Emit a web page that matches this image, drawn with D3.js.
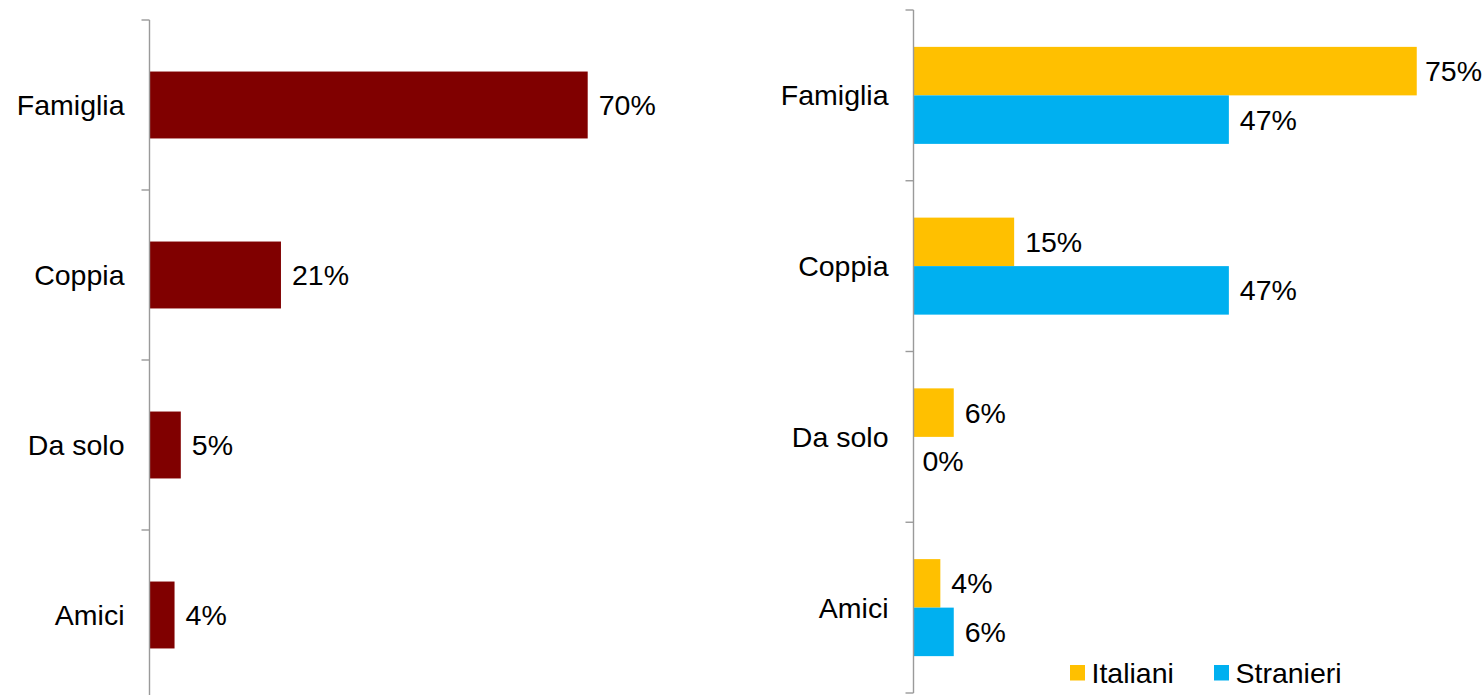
<!DOCTYPE html>
<html>
<head>
<meta charset="utf-8">
<script src="https://cdn.jsdelivr.net/npm/d3@7"></script>
<style>
  html, body { margin: 0; padding: 0; background: #fff; }
  svg { display: block; }
  text { font-family: "Liberation Sans", Arial, sans-serif; fill: #000; }
</style>
</head>
<body>
<svg id="chart" width="1483" height="695"></svg>
<script>
// Categories shared by both panels
const categories = ["Famiglia", "Coppia", "Da solo", "Amici"];

// Left panel: overall share
const totalValues = [0.70, 0.21, 0.05, 0.04];

// Right panel: split by origin
const seriesNames = ["Italiani", "Stranieri"];
const italianiValues = [0.75, 0.15, 0.06, 0.04];
const stranieriValues = [0.47, 0.47, 0.00, 0.06];

const seriesColors = ["#FFC000", "#00B0F0"];
const totalColor = "#800000";
const axisColor = "#9a9a9a";
const fontSize = 28.5;
const svgWidth = 1483;

const svg = d3.select("#chart");
const fmt = d3.format(".0%");

// Draws a vertical category axis with ticks at band boundaries and labels at band centres
function drawCategoryAxis(g, y, x0) {
  const [top, bottom] = y.range();
  g.append("line")
    .attr("x1", x0).attr("x2", x0)
    .attr("y1", top).attr("y2", bottom)
    .attr("stroke", axisColor).attr("stroke-width", 1.4);
  const bounds = categories.map(c => y(c)).concat([y(categories[categories.length - 1]) + y.step()]);
  g.selectAll(".tick").data(bounds).join("line")
    .attr("x1", x0 - 8).attr("x2", x0)
    .attr("y1", d => d).attr("y2", d => d)
    .attr("stroke", axisColor).attr("stroke-width", 1.4);
  g.selectAll(".cat").data(categories).join("text")
    .attr("x", x0 - 25)
    .attr("y", d => y(d) + y.bandwidth() / 2)
    .attr("dy", "0.35em")
    .attr("text-anchor", "end")
    .style("font-size", fontSize + "px")
    .text(d => d);
}

// Keeps value labels inside the drawing area
function keepInside(sel) {
  sel.each(function () {
    const w = this.getComputedTextLength();
    const x = +this.getAttribute("x");
    if (x + w > svgWidth - 1) this.setAttribute("x", svgWidth - 1 - w);
  });
}

// ---- Left panel ----
{
  const x0 = 149.5;
  const x = d3.scaleLinear().domain([0, 0.8]).range([x0, x0 + 0.8 * 626]);
  const y = d3.scaleBand().domain(categories).range([20, 700]).padding(0);
  const inner = d3.scaleBand().domain(["total"]).range([0, y.bandwidth()]).paddingOuter(0.77);
  const g = svg.append("g");

  const data = categories.map((c, i) => ({ cat: c, v: totalValues[i] }));
  g.selectAll("rect").data(data).join("rect")
    .attr("x", x(0))
    .attr("y", d => y(d.cat) + inner("total"))
    .attr("width", d => x(d.v) - x(0))
    .attr("height", inner.bandwidth())
    .attr("fill", totalColor);

  g.selectAll(".val").data(data).join("text")
    .attr("x", d => x(d.v) + 11)
    .attr("y", d => y(d.cat) + inner("total") + inner.bandwidth() / 2)
    .attr("dy", "0.35em")
    .style("font-size", fontSize + "px")
    .text(d => fmt(d.v));

  drawCategoryAxis(g.append("g"), y, x0);
}

// ---- Right panel ----
{
  const x0 = 913.5;
  const x = d3.scaleLinear().domain([0, 0.8]).range([x0, x0 + 0.8 * 671]);
  const y = d3.scaleBand().domain(categories).range([10, 693]).padding(0);
  const inner = d3.scaleBand().domain(seriesNames).range([0, y.bandwidth()]).paddingInner(0).paddingOuter(0.76);
  const g = svg.append("g");

  const seriesValues = [italianiValues, stranieriValues];
  const data = [];
  categories.forEach((c, i) => {
    seriesNames.forEach((s, j) => data.push({ cat: c, s, j, v: seriesValues[j][i] }));
  });

  g.selectAll("rect").data(data).join("rect")
    .attr("x", x(0))
    .attr("y", d => y(d.cat) + inner(d.s))
    .attr("width", d => x(d.v) - x(0))
    .attr("height", inner.bandwidth())
    .attr("fill", d => seriesColors[d.j]);

  g.selectAll(".val").data(data).join("text")
    .attr("x", d => x(d.v) + (d.v === 0 ? 9 : 11))
    .attr("y", d => y(d.cat) + inner(d.s) + inner.bandwidth() / 2)
    .attr("dy", "0.35em")
    .style("font-size", fontSize + "px")
    .text(d => fmt(d.v))
    .call(keepInside);

  drawCategoryAxis(g.append("g"), y, x0);

  // Legend
  const legend = g.append("g").attr("transform", "translate(1070,665)");
  const offsets = [0, 144];
  seriesNames.forEach((s, j) => {
    legend.append("rect")
      .attr("x", offsets[j]).attr("y", 0)
      .attr("width", 15).attr("height", 15.5)
      .attr("fill", seriesColors[j]);
    legend.append("text")
      .attr("x", offsets[j] + 21.5).attr("y", 17.5)
      .style("font-size", fontSize + "px")
      .text(s);
  });
}
</script>
</body>
</html>
